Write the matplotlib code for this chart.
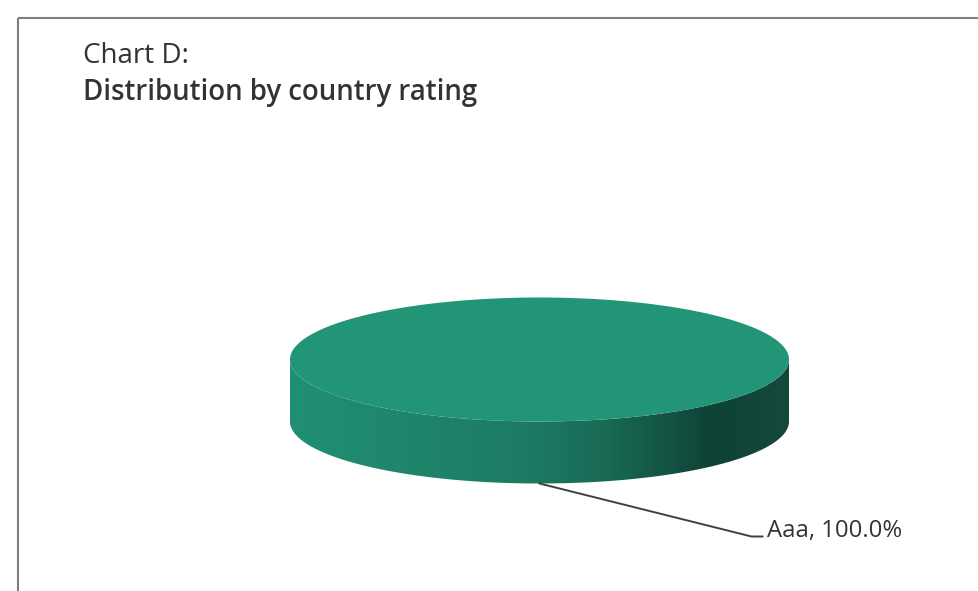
import numpy as np
import matplotlib
matplotlib.use("Agg")
import matplotlib.pyplot as plt
from matplotlib.patches import Polygon
from matplotlib.colors import LinearSegmentedColormap

# ---- data ----
categories = ["Aaa"]
values = [100.0]
title_line1 = "Chart D:"
title_line2 = "Distribution by country rating"

# ---- style ----
top_colors = ["#239577"]
side_cmap = LinearSegmentedColormap.from_list(
    "side", [(0.0, "#218f73"), (0.45, "#1d7d64"), (0.62, "#1a6c57"),
             (0.85, "#0f4236"), (1.0, "#15493c")])

W, H = 979, 591
fig = plt.figure(figsize=(W / 100, H / 100), dpi=100)
ax = fig.add_axes([0, 0, 1, 1])
ax.set_xlim(0, W)
ax.set_ylim(H, 0)
ax.axis("off")

# frame lines (top and left)
ax.plot([18, W], [18, 18], color="#7f7f7f", lw=1.5, solid_capstyle="butt")
ax.plot([18, 18], [18, H], color="#7f7f7f", lw=1.5, solid_capstyle="butt")

# titles
ax.text(83, 63, title_line1, fontsize=20, family="Open Sans", color="#333333",
        va="baseline", ha="left")
ax.text(83, 100, title_line2, fontsize=19.9, family="Open Sans", weight="semibold",
        color="#333333", va="baseline", ha="left")

# ---- 3D pie geometry ----
cx, cy = 539.5, 359.5     # centre of top face
a, b = 249.5, 62.0        # semi-axes
depth = 62.0

total = float(sum(values))
start = 90.0

def pt(theta_deg, dy=0.0):
    t = np.radians(theta_deg)
    return cx + a * np.cos(t), cy - b * np.sin(t) + dy

angles = []
ang = start
for v in values:
    span = 360.0 * v / total
    angles.append((ang, ang - span))  # clockwise
    ang -= span

# gradient image for side faces
grad = np.linspace(0, 1, 512)[None, :]

for i, (a0, a1) in enumerate(angles):
    # visible front part: angles between 180 and 360 (sin < 0)
    lo, hi = min(a0, a1), max(a0, a1)
    segs = []
    for base in (-360, 0, 360):
        s0, s1 = max(lo, base + 180), min(hi, base + 360)
        if s1 > s0:
            segs.append((s0, s1))
    for s0, s1 in segs:
        th = np.linspace(s0, s1, 400)
        xt, yt = pt(th)
        xb, yb = pt(th[::-1], depth)
        verts = list(zip(xt, yt)) + list(zip(xb, yb))
        poly = Polygon(verts, closed=True, facecolor="none", edgecolor="none")
        ax.add_patch(poly)
        im = ax.imshow(grad, cmap=side_cmap, aspect="auto",
                       extent=[cx - a, cx + a, cy + b + depth + 2, cy - b - 2],
                       interpolation="bilinear", zorder=1)
        im.set_clip_path(poly)

# top faces
for i, (a0, a1) in enumerate(angles):
    th = np.linspace(a0, a1, 400)
    xs, ys = pt(th)
    verts = list(zip(xs, ys))
    if abs(a0 - a1) < 359.999:
        verts = [(cx, cy)] + verts
    ax.add_patch(Polygon(verts, closed=True, facecolor=top_colors[i % len(top_colors)],
                         edgecolor="none", zorder=2))

ax.set_xlim(0, W)
ax.set_ylim(H, 0)

# labels with leader lines
for i, (a0, a1) in enumerate(angles):
    mid = 0.5 * (a0 + a1)
    ex, ey = pt(mid, depth)
    elbow_x, elbow_y = ex + 212, ey + 53
    end_x = elbow_x + 11
    ax.plot([ex, elbow_x, end_x], [ey, elbow_y, elbow_y], color="#404040", lw=1.4,
            zorder=3)
    pct = 100.0 * values[i] / total
    ax.text(end_x + 5, elbow_y + 1, f"{categories[i]}, {pct:.1f}%", fontsize=17.2,
            family="Open Sans", color="#333333", va="baseline", ha="left")

fig.savefig("out.png", dpi=100)
